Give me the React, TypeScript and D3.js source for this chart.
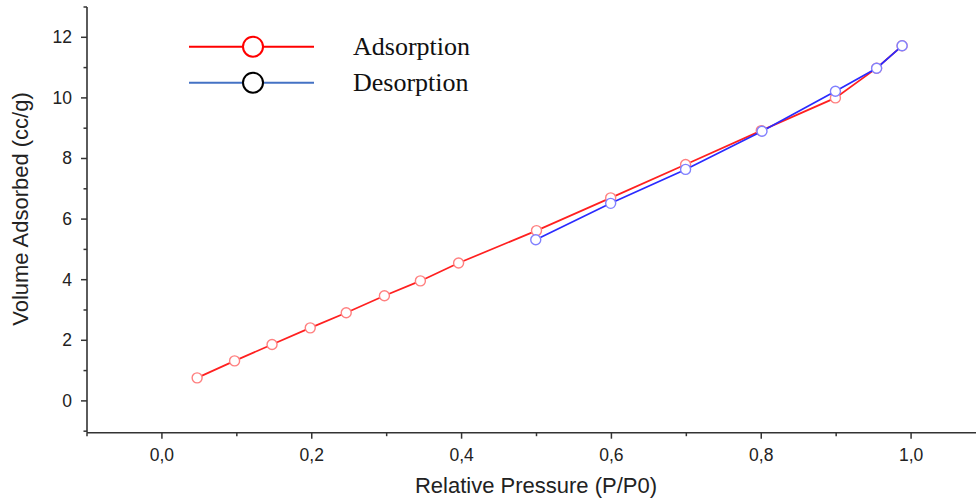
import React from "react";
import * as d3 from "d3";

const adsX = [0.047, 0.097, 0.147, 0.198, 0.246, 0.297, 0.345, 0.396, 0.5, 0.599, 0.699, 0.8, 0.899, 0.954, 0.988];
const adsY = [0.76, 1.32, 1.86, 2.41, 2.91, 3.47, 3.96, 4.55, 5.62, 6.7, 7.8, 8.92, 10.0, 10.98, 11.72];
const desX = [0.499, 0.599, 0.699, 0.801, 0.899, 0.954, 0.988];
const desY = [5.32, 6.52, 7.64, 8.9, 10.22, 10.98, 11.72];
const xTicks = [0, 0.2, 0.4, 0.6, 0.8, 1.0];
const xMinor = [-0.1, 0.1, 0.3, 0.5, 0.7, 0.9, 1.1];
const yTicks = [0, 2, 4, 6, 8, 10, 12];
const yMinor = [-1, 1, 3, 5, 7, 9, 11, 13];
const legendLabels = ["Adsorption", "Desorption"];

export default function App() {
  const W = 976, H = 501;
  const x = d3.scaleLinear().domain([-0.1, 1.1]).range([87, 986]);
  const y = d3.scaleLinear().domain([-1.05, 13]).range([432.7, 7]);
  const ads = adsX.map((v, i) => [v, adsY[i]] as [number, number]);
  const des = desX.map((v, i) => [v, desY[i]] as [number, number]);
  const line = d3.line<[number, number]>().x(d => x(d[0])).y(d => y(d[1]));
  const axisY = y(-1.05);
  const axisX = x(-0.1);
  const axCol = "#333";
  const sans = "Liberation Sans, Arial, sans-serif";
  const serif = "Liberation Serif, Times New Roman, serif";
  const fmt = (v: number) => v.toFixed(1).replace(".", ",");
  return (
    <svg width={W} height={H} style={{ position: "absolute", left: 0, top: 0, background: "#fff" }}>
      <rect width={W} height={H} fill="#fff" />
      {/* axes */}
      <line x1={axisX} x2={W} y1={axisY} y2={axisY} stroke={axCol} strokeWidth={1.6} />
      <line x1={axisX} x2={axisX} y1={y(13)} y2={axisY} stroke={axCol} strokeWidth={1.6} />
      {xTicks.map(t => (
        <g key={"xt" + t}>
          <line x1={x(t)} x2={x(t)} y1={axisY} y2={axisY + 6} stroke={axCol} strokeWidth={1.5} />
          <text x={x(t)} y={axisY + 28} textAnchor="middle" fontFamily={sans} fontSize={17.5} fill="#222">{fmt(t)}</text>
        </g>
      ))}
      {xMinor.map(t => (
        <line key={"xm" + t} x1={x(t)} x2={x(t)} y1={axisY} y2={axisY + 3.5} stroke={axCol} strokeWidth={1.5} />
      ))}
      {yTicks.map(t => (
        <g key={"yt" + t}>
          <line x1={axisX - 6} x2={axisX} y1={y(t)} y2={y(t)} stroke={axCol} strokeWidth={1.5} />
          <text x={axisX - 15} y={y(t) + 6} textAnchor="end" fontFamily={sans} fontSize={17.5} fill="#222">{t}</text>
        </g>
      ))}
      {yMinor.map(t => (
        <line key={"ym" + t} x1={axisX - 3.5} x2={axisX} y1={y(t)} y2={y(t)} stroke={axCol} strokeWidth={1.5} />
      ))}
      <text x={536} y={493} textAnchor="middle" fontFamily={sans} fontSize={22} fill="#222">Relative Pressure (P/P0)</text>
      <text transform={`translate(28,209) rotate(-90)`} textAnchor="middle" fontFamily={sans} fontSize={22} fill="#222">Volume Adsorbed (cc/g)</text>
      {/* series */}
      <path d={line(ads) || ""} fill="none" stroke="#ff2020" strokeWidth={1.7} />
      {ads.map((d, i) => (
        <circle key={"a" + i} cx={x(d[0])} cy={y(d[1])} r={5} fill="#fff" stroke="#ff8080" strokeWidth={1.4} />
      ))}
      <path d={line(des) || ""} fill="none" stroke="#2a2aff" strokeWidth={1.7} />
      {des.map((d, i) => (
        <circle key={"d" + i} cx={x(d[0])} cy={y(d[1])} r={5} fill="#fff" stroke="#8080ff" strokeWidth={1.4} />
      ))}
      {/* legend */}
      <line x1={189} x2={314} y1={46.7} y2={46.7} stroke="#ff0000" strokeWidth={2} />
      <circle cx={253} cy={46.7} r={10} fill="#fff" stroke="#ff0000" strokeWidth={2} />
      <text x={353} y={54.5} fontFamily={serif} fontSize={26} fill="#111">{legendLabels[0]}</text>
      <line x1={189} x2={314} y1={82.7} y2={82.7} stroke="#4472c4" strokeWidth={2} />
      <circle cx={253} cy={82.7} r={10} fill="#fff" stroke="#000" strokeWidth={2} />
      <text x={353} y={90.5} fontFamily={serif} fontSize={26} fill="#111">{legendLabels[1]}</text>
    </svg>
  );
}
